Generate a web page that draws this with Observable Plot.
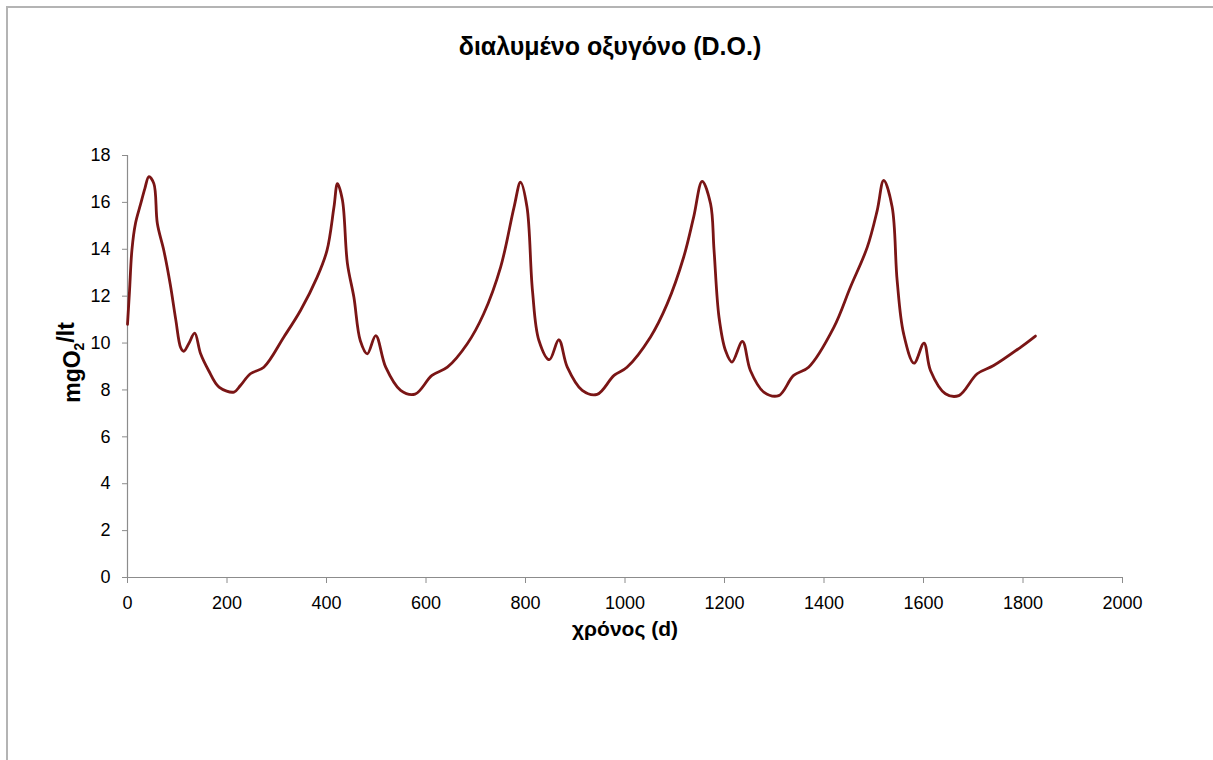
<!DOCTYPE html>
<html><head><meta charset="utf-8">
<script src="https://cdn.jsdelivr.net/npm/d3@7"></script>
<script src="https://cdn.jsdelivr.net/npm/@observablehq/plot@0.6"></script>
<style>
body{margin:0;background:#fff;font-family:"Liberation Sans",Arial,sans-serif;}
#frame{position:absolute;left:6px;top:6px;width:1207px;height:754px;border-top:2px solid #b4b4b4;border-left:2px solid #b4b4b4;box-sizing:border-box;z-index:5;pointer-events:none;}
#title{position:absolute;left:0;top:31px;width:1220px;text-align:center;font-size:25px;font-weight:bold;color:#000;line-height:30px;}
#chart{position:absolute;left:0;top:80px;}
</style>
</head><body>
<div id="frame"></div>
<div id="title">διαλυμένο οξυγόνο (D.O.)</div>
<div id="chart"></div>
<script>
const days = [0, 4, 9, 16, 26, 35, 43, 53, 60, 73, 86, 97, 107, 113, 123, 135, 147, 163, 184, 214, 227, 247, 274, 314, 348, 381, 401, 415, 422, 432, 442, 455, 468, 482, 499, 519, 549, 578, 612, 643, 683, 716, 750, 777, 790, 803, 814, 827, 848, 867, 884, 914, 944, 978, 1004, 1051, 1085, 1118, 1138, 1155, 1172, 1179, 1189, 1202, 1215, 1236, 1252, 1279, 1309, 1339, 1369, 1420, 1453, 1487, 1507, 1520, 1537, 1547, 1560, 1581, 1601, 1614, 1644, 1671, 1708, 1741, 1795, 1825];
const doValues = [10.8, 12.2, 14.0, 15.1, 15.9, 16.6, 17.1, 16.8, 15.1, 13.95, 12.5, 11.0, 9.8, 9.65, 9.97, 10.42, 9.54, 8.83, 8.12, 7.91, 8.19, 8.69, 8.97, 10.25, 11.4, 12.8, 13.95, 15.8, 16.8, 16.1, 13.4, 11.96, 10.1, 9.54, 10.32, 8.97, 7.98, 7.82, 8.62, 8.97, 9.97, 11.25, 13.24, 15.8, 16.86, 15.8, 12.24, 10.11, 9.29, 10.14, 8.97, 7.98, 7.81, 8.62, 8.97, 10.25, 11.68, 13.67, 15.37, 16.9, 15.94, 13.95, 11.1, 9.68, 9.19, 10.07, 8.83, 7.91, 7.76, 8.62, 8.97, 10.68, 12.38, 14.09, 15.66, 16.94, 15.8, 12.67, 10.4, 9.14, 10.0, 8.83, 7.84, 7.76, 8.69, 9.04, 9.82, 10.3];
const xTicks = [0, 200, 400, 600, 800, 1000, 1200, 1400, 1600, 1800, 2000];
const yTicks = [0, 2, 4, 6, 8, 10, 12, 14, 16, 18];
const xLabel = "χρόνος (d)";
const yLabel = "mgO2/lt";

const data = days.map((d, i) => ({day: d, value: doValues[i]}));

const chart = Plot.plot({
  width: 1213,
  height: 620,
  marginTop: 75,
  marginBottom: 123,
  marginLeft: 127,
  marginRight: 91,
  style: {fontFamily: '"Liberation Sans", Arial, sans-serif', fontSize: "18px", color: "#000", background: "transparent"},
  x: {domain: [0, 2000], label: null},
  y: {domain: [0, 18], label: null},
  marks: [
    Plot.axisX({ticks: xTicks, tickFormat: d => String(d), tickSize: 6, tickPadding: 13, stroke: "#8c8c8c", fill: "#000", label: null, fontSize: 18}),
    Plot.axisY({ticks: yTicks, tickFormat: d => String(d), tickSize: 5, tickPadding: 12, stroke: "#8c8c8c", fill: "#000", label: null, fontSize: 18}),
    Plot.ruleX([0], {stroke: "#8c8c8c", strokeWidth: 1.2}),
    Plot.ruleY([0], {stroke: "#8c8c8c", strokeWidth: 1.2}),
    Plot.line(data, {x: "day", y: "value", stroke: "#7a1515", strokeWidth: 2.8, curve: "catmull-rom"}),
    Plot.text([xLabel], {frameAnchor: "bottom", dy: 58, textAnchor: "middle", fontWeight: "bold", fontSize: 21, fill: "#000"}),
    Plot.text([yLabel], {frameAnchor: "left", dx: -55, dy: -4, rotate: -90, textAnchor: "middle", fontWeight: "bold", fontSize: 23, fill: "#000"})
  ]
});
document.getElementById("chart").appendChild(chart);
// render the "2" of mgO2 as a subscript
d3.select(chart).selectAll("text").filter(function() { return this.textContent === yLabel; }).each(function() {
  const t = d3.select(this);
  t.text(null);
  t.append("tspan").text("mgO");
  t.append("tspan").attr("font-size", 14).attr("dy", "0.3em").text("2");
  t.append("tspan").attr("dy", "-0.45em").text("/lt");
});
</script>
</body></html>
